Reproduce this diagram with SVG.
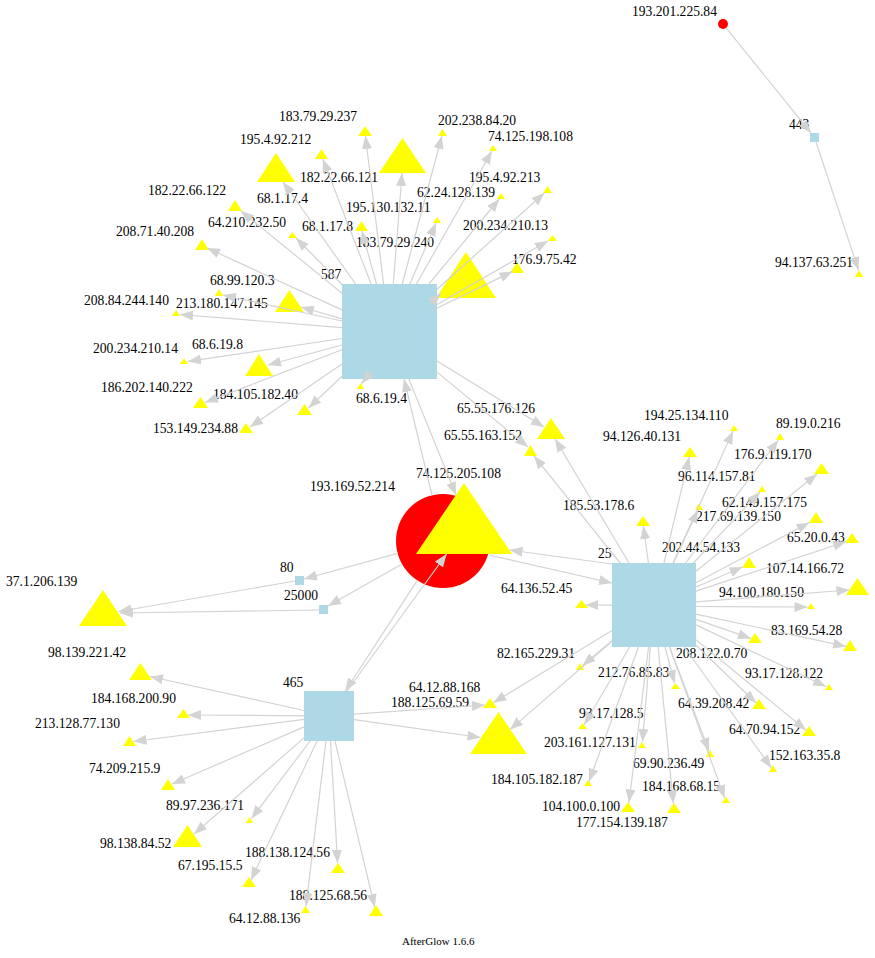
<svg xmlns="http://www.w3.org/2000/svg" width="875" height="958" viewBox="0 0 875 958">
<style>
text{font-family:"Liberation Serif","Times New Roman",serif;font-size:13.6px;fill:#000}
.y{fill:#ffff00}
.p{fill:#add8e6}
.r{fill:#ff0000}
.e line{stroke:#d3d3d3;stroke-width:1.2;fill:none;marker-end:url(#ah)}
.ft{font-size:11px}
</style>
<defs>
<marker id="ah" markerUnits="userSpaceOnUse" markerWidth="13" markerHeight="10" refX="13" refY="5" orient="auto"><path d="M0,0 L13,5 L0,10 z" fill="#d3d3d3"/></marker>
</defs>
<rect width="875" height="958" fill="#fff"/>
<g id="nodes">
<g id="src-193-201-225-84"><circle class="r" cx="723" cy="24" r="5"/><text x="632" y="16">193.201.225.84</text></g>
<g id="port-443"><rect class="p" x="810" y="133" width="9" height="9"/><text x="789" y="129">443</text></g>
<g id="ip-94-137-63-251"><polygon class="y" points="859,270 855,277 863,277"/><text x="775" y="267">94.137.63.251</text></g>
<g id="src-193-169-52-214"><circle class="r" cx="443" cy="541" r="47"/><text x="310" y="491">193.169.52.214</text></g>
<g id="port-587"><rect class="p" x="342" y="284" width="95" height="95"/><text x="321" y="279">587</text></g>
<g id="port-25"><rect class="p" x="612" y="563" width="84" height="84"/><text x="598" y="558">25</text></g>
<g id="port-465"><rect class="p" x="304" y="691" width="50" height="50"/><text x="283" y="687">465</text></g>
<g id="port-80"><rect class="p" x="295" y="576" width="9" height="9"/><text x="280" y="572">80</text></g>
<g id="port-25000"><rect class="p" x="319" y="605" width="9" height="9"/><text x="284" y="600">25000</text></g>
<g id="ip-37-1-206-139"><polygon class="y" points="103,590 79,626 127,626"/><text x="6" y="586">37.1.206.139</text></g>
<g id="ip-183-79-29-237"><polygon class="y" points="365,126 358,136 372,136"/><text x="279" y="121">183.79.29.237</text></g>
<g id="ip-195-4-92-212"><polygon class="y" points="321.5,149 315,159 328,159"/><text x="240" y="144">195.4.92.212</text></g>
<g id="ip-68-1-17-4"><polygon class="y" points="276,153 257,182 295,182"/><text x="257" y="203">68.1.17.4</text></g>
<g id="ip-182-22-66-121"><polygon class="y" points="402.5,138 379,173 426,173"/><text x="300" y="182">182.22.66.121</text></g>
<g id="ip-202-238-84-20"><polygon class="y" points="442.5,129 438,136 447,136"/><text x="438" y="125">202.238.84.20</text></g>
<g id="ip-74-125-198-108"><polygon class="y" points="493,145 489,151 497,151"/><text x="488" y="141">74.125.198.108</text></g>
<g id="ip-182-22-66-122"><polygon class="y" points="235,200 228,211 242,211"/><text x="148" y="195">182.22.66.122</text></g>
<g id="ip-64-210-232-50"><polygon class="y" points="292.5,232 288,238 297,238"/><text x="208" y="227">64.210.232.50</text></g>
<g id="ip-208-71-40-208"><polygon class="y" points="202,239 195,250 209,250"/><text x="116" y="236">208.71.40.208</text></g>
<g id="ip-68-1-17-8"><polygon class="y" points="361.5,221 355,231 368,231"/><text x="302" y="231">68.1.17.8</text></g>
<g id="ip-195-130-132-11"><polygon class="y" points="437,217 433,223 441,223"/><text x="346" y="212">195.130.132.11</text></g>
<g id="ip-62-24-128-139"><polygon class="y" points="501,193 497,199 505,199"/><text x="417" y="197">62.24.128.139</text></g>
<g id="ip-195-4-92-213"><polygon class="y" points="547.5,186 543,193 552,193"/><text x="469" y="182">195.4.92.213</text></g>
<g id="ip-200-234-210-13"><polygon class="y" points="552.5,235 548,241 557,241"/><text x="463" y="230">200.234.210.13</text></g>
<g id="ip-183-79-29-240"><polygon class="y" points="466,252 436,298 496,298"/><text x="356" y="247">183.79.29.240</text></g>
<g id="ip-176-9-75-42"><polygon class="y" points="517,262 510,273 524,273"/><text x="512" y="264">176.9.75.42</text></g>
<g id="ip-68-99-120-3"><polygon class="y" points="219,289 215,296 223,296"/><text x="210" y="285">68.99.120.3</text></g>
<g id="ip-213-180-147-145"><polygon class="y" points="289.5,290 275,312 304,312"/><text x="176" y="308">213.180.147.145</text></g>
<g id="ip-208-84-244-140"><polygon class="y" points="176,310 172,316 180,316"/><text x="84" y="305">208.84.244.140</text></g>
<g id="ip-200-234-210-14"><polygon class="y" points="184,358 180,364 188,364"/><text x="93" y="353">200.234.210.14</text></g>
<g id="ip-68-6-19-8"><polygon class="y" points="259,354 245,376 273,376"/><text x="192" y="349">68.6.19.8</text></g>
<g id="ip-186-202-140-222"><polygon class="y" points="200.5,397 193,408 208,408"/><text x="101" y="392">186.202.140.222</text></g>
<g id="ip-153-149-234-88"><polygon class="y" points="246,423 239,433 253,433"/><text x="153" y="433">153.149.234.88</text></g>
<g id="ip-184-105-182-40"><polygon class="y" points="304.5,404 297,415 312,415"/><text x="213" y="399">184.105.182.40</text></g>
<g id="ip-68-6-19-4"><polygon class="y" points="360.5,383 357,389 364,389"/><text x="356" y="403">68.6.19.4</text></g>
<g id="ip-65-55-176-126"><polygon class="y" points="551,418 537,439 565,439"/><text x="457" y="413">65.55.176.126</text></g>
<g id="ip-65-55-163-152"><polygon class="y" points="530.5,445 524,456 537,456"/><text x="444" y="440">65.55.163.152</text></g>
<g id="ip-74-125-205-108"><polygon class="y" points="464,483 416,554 512,554"/><text x="416" y="478">74.125.205.108</text></g>
<g id="ip-194-25-134-110"><polygon class="y" points="734,425 730,431 738,431"/><text x="644" y="420">194.25.134.110</text></g>
<g id="ip-89-19-0-216"><polygon class="y" points="780,433 776,440 784,440"/><text x="776" y="428">89.19.0.216</text></g>
<g id="ip-94-126-40-131"><polygon class="y" points="690,447 683,457 697,457"/><text x="603" y="441">94.126.40.131</text></g>
<g id="ip-176-9-119-170"><polygon class="y" points="821.5,463 814,474 829,474"/><text x="734" y="459">176.9.119.170</text></g>
<g id="ip-96-114-157-81"><polygon class="y" points="762,486 758,492 766,492"/><text x="678" y="481">96.114.157.81</text></g>
<g id="ip-217-69-139-150"><polygon class="y" points="699,503 695,510 703,510"/><text x="696" y="521">217.69.139.150</text></g>
<g id="ip-185-53-178-6"><polygon class="y" points="643,516 636,526 650,526"/><text x="563" y="510">185.53.178.6</text></g>
<g id="ip-62-149-157-175"><polygon class="y" points="816,512 809,523 823,523"/><text x="722" y="507">62.149.157.175</text></g>
<g id="ip-65-20-0-43"><polygon class="y" points="852,533 845,543 859,543"/><text x="787" y="542">65.20.0.43</text></g>
<g id="ip-202-44-54-133"><polygon class="y" points="749,557 742,568 756,568"/><text x="662" y="552">202.44.54.133</text></g>
<g id="ip-107-14-166-72"><polygon class="y" points="857.5,578 846,595 869,595"/><text x="766" y="573">107.14.166.72</text></g>
<g id="ip-94-100-180-150"><polygon class="y" points="811,603 807,609 815,609"/><text x="719" y="597">94.100.180.150</text></g>
<g id="ip-64-136-52-45"><polygon class="y" points="581.5,600 575,608 588,608"/><text x="501" y="593">64.136.52.45</text></g>
<g id="ip-208-122-0-70"><polygon class="y" points="755,633 748,643 762,643"/><text x="676" y="658">208.122.0.70</text></g>
<g id="ip-83-169-54-28"><polygon class="y" points="850,640 843,651 857,651"/><text x="771" y="635">83.169.54.28</text></g>
<g id="ip-82-165-229-31"><polygon class="y" points="580,663 576,670 584,670"/><text x="497" y="658">82.165.229.31</text></g>
<g id="ip-212-76-85-83"><polygon class="y" points="675.5,683 671,689 680,689"/><text x="598" y="677">212.76.85.83</text></g>
<g id="ip-93-17-128-122"><polygon class="y" points="829,684 825,690 833,690"/><text x="745" y="678">93.17.128.122</text></g>
<g id="ip-64-12-88-168"><polygon class="y" points="490,698 483,708 497,708"/><text x="409" y="692">64.12.88.168</text></g>
<g id="ip-188-125-69-59"><polygon class="y" points="498.5,712 470,754 527,754"/><text x="391" y="707">188.125.69.59</text></g>
<g id="ip-64-39-208-42"><polygon class="y" points="759,699 752,709 766,709"/><text x="678" y="708">64.39.208.42</text></g>
<g id="ip-93-17-128-5"><polygon class="y" points="582.5,723 578,729 587,729"/><text x="579" y="718">93.17.128.5</text></g>
<g id="ip-64-70-94-152"><polygon class="y" points="809,726 802,736 816,736"/><text x="729" y="734">64.70.94.152</text></g>
<g id="ip-203-161-127-131"><polygon class="y" points="642,742 638,748 646,748"/><text x="544" y="747">203.161.127.131</text></g>
<g id="ip-69-90-236-49"><polygon class="y" points="710,750 706,757 714,757"/><text x="633" y="768">69.90.236.49</text></g>
<g id="ip-152-163-35-8"><polygon class="y" points="773,765 769,772 777,772"/><text x="769" y="760">152.163.35.8</text></g>
<g id="ip-184-105-182-187"><polygon class="y" points="588,780 584,786 592,786"/><text x="491" y="784">184.105.182.187</text></g>
<g id="ip-104-100-0-100"><polygon class="y" points="628,802 621,812 635,812"/><text x="542" y="811">104.100.0.100</text></g>
<g id="ip-184-168-68-15"><polygon class="y" points="726,797 722,803 730,803"/><text x="642" y="791">184.168.68.15</text></g>
<g id="ip-177-154-139-187"><polygon class="y" points="674,803 667,813 681,813"/><text x="576" y="827">177.154.139.187</text></g>
<g id="ip-98-139-221-42"><polygon class="y" points="140.5,663 129,680 152,680"/><text x="48" y="657">98.139.221.42</text></g>
<g id="ip-184-168-200-90"><polygon class="y" points="183.5,709 177,718 190,718"/><text x="91" y="703">184.168.200.90</text></g>
<g id="ip-213-128-77-130"><polygon class="y" points="129.5,736 123,746 136,746"/><text x="35" y="728">213.128.77.130</text></g>
<g id="ip-74-209-215-9"><polygon class="y" points="168,779 161,790 175,790"/><text x="89" y="773">74.209.215.9</text></g>
<g id="ip-89-97-236-171"><polygon class="y" points="249.5,817 246,823 253,823"/><text x="166" y="810">89.97.236.171</text></g>
<g id="ip-98-138-84-52"><polygon class="y" points="187.5,825 173,847 202,847"/><text x="100" y="848">98.138.84.52</text></g>
<g id="ip-188-138-124-56"><polygon class="y" points="338,863 331,873 345,873"/><text x="245" y="857">188.138.124.56</text></g>
<g id="ip-67-195-15-5"><polygon class="y" points="249,877 242,887 256,887"/><text x="178" y="870">67.195.15.5</text></g>
<g id="ip-64-12-88-136"><polygon class="y" points="305.5,906 301,913 310,913"/><text x="229" y="923">64.12.88.136</text></g>
<g id="ip-188-125-68-56"><polygon class="y" points="376,905 369,916 383,916"/><text x="289" y="900">188.125.68.56</text></g>
</g>
<g id="connectors" class="e">
<line x1="726.1" y1="27.9" x2="811" y2="133"/>
<line x1="816" y1="142" x2="858.5" y2="270"/>
<line x1="383.6" y1="284" x2="365.4" y2="136"/>
<line x1="371.1" y1="284" x2="322.8" y2="159"/>
<line x1="355.6" y1="284" x2="283" y2="182"/>
<line x1="393.3" y1="284" x2="402.1" y2="173"/>
<line x1="402.2" y1="284" x2="441.9" y2="136"/>
<line x1="416.4" y1="284" x2="491.9" y2="151"/>
<line x1="342" y1="293.3" x2="241" y2="211"/>
<line x1="342" y1="284.5" x2="296" y2="238"/>
<line x1="342" y1="309.9" x2="207" y2="248"/>
<line x1="376.5" y1="284" x2="361.9" y2="231"/>
<line x1="409.9" y1="284" x2="436.1" y2="223"/>
<line x1="428.9" y1="284" x2="499.3" y2="199"/>
<line x1="437" y1="289.2" x2="544.5" y2="193"/>
<line x1="437" y1="304.5" x2="548" y2="241"/>
<line x1="430" y1="304" x2="441" y2="293"/>
<line x1="437" y1="308.3" x2="512.5" y2="271.5"/>
<line x1="342" y1="321" x2="223" y2="295"/>
<line x1="342" y1="318.8" x2="301" y2="307"/>
<line x1="342" y1="327.6" x2="180" y2="314.5"/>
<line x1="342" y1="338.5" x2="188" y2="361.4"/>
<line x1="342" y1="345" x2="268" y2="365"/>
<line x1="342" y1="349.8" x2="205" y2="402.5"/>
<line x1="342" y1="364" x2="250" y2="427"/>
<line x1="342" y1="376.3" x2="308.6" y2="408"/>
<line x1="372" y1="371" x2="361.5" y2="383.5"/>
<line x1="437" y1="361.1" x2="544" y2="427"/>
<line x1="437" y1="372.1" x2="528" y2="447"/>
<line x1="408.8" y1="379" x2="456" y2="495"/>
<line x1="432" y1="495.3" x2="404" y2="379"/>
<line x1="489" y1="555" x2="612" y2="583"/>
<line x1="397.6" y1="553.4" x2="304" y2="579"/>
<line x1="402" y1="564" x2="328" y2="606"/>
<line x1="417.3" y1="580.4" x2="345.3" y2="691"/>
<line x1="295" y1="581" x2="118.5" y2="611.5"/>
<line x1="319" y1="610" x2="120" y2="613"/>
<line x1="304" y1="710.5" x2="150" y2="676.5"/>
<line x1="304" y1="715.8" x2="188" y2="715"/>
<line x1="304" y1="719.3" x2="133.5" y2="741.5"/>
<line x1="304" y1="726.9" x2="172" y2="784"/>
<line x1="310.1" y1="741" x2="251.5" y2="818.5"/>
<line x1="304" y1="737.9" x2="194" y2="834"/>
<line x1="330.5" y1="741" x2="337.6" y2="863"/>
<line x1="317.1" y1="741" x2="251" y2="880"/>
<line x1="326" y1="741" x2="306" y2="906"/>
<line x1="335" y1="741" x2="374.7" y2="907"/>
<line x1="354" y1="714.2" x2="485" y2="705"/>
<line x1="354" y1="719.6" x2="480.5" y2="737.5"/>
<line x1="347" y1="691" x2="446.6" y2="554"/>
<line x1="673.1" y1="563" x2="733.1" y2="431"/>
<line x1="685.6" y1="563" x2="778.3" y2="440"/>
<line x1="664" y1="563" x2="689.2" y2="457"/>
<line x1="696" y1="571.2" x2="817" y2="474"/>
<line x1="693.4" y1="563" x2="760" y2="492"/>
<line x1="673.4" y1="563" x2="698" y2="510"/>
<line x1="648.4" y1="563" x2="643.4" y2="526"/>
<line x1="696" y1="582.8" x2="809.5" y2="522.5"/>
<line x1="696" y1="591.1" x2="846" y2="541.7"/>
<line x1="696" y1="587" x2="742.6" y2="567"/>
<line x1="696" y1="601.8" x2="849.4" y2="590"/>
<line x1="696" y1="606.5" x2="807.5" y2="607"/>
<line x1="612" y1="605.1" x2="585.5" y2="605"/>
<line x1="696" y1="619.4" x2="751" y2="638.4"/>
<line x1="696" y1="614.1" x2="846" y2="646.4"/>
<line x1="612" y1="640.6" x2="582.5" y2="665.5"/>
<line x1="665" y1="647" x2="674.5" y2="683"/>
<line x1="696" y1="624.9" x2="826" y2="686.5"/>
<line x1="612" y1="630.5" x2="493.3" y2="702.7"/>
<line x1="612" y1="641.3" x2="510" y2="729.6"/>
<line x1="696" y1="645.3" x2="756.2" y2="703"/>
<line x1="629.6" y1="647" x2="584.3" y2="724.7"/>
<line x1="696" y1="639.6" x2="806" y2="730.2"/>
<line x1="650.4" y1="647" x2="642.4" y2="742"/>
<line x1="669.7" y1="647" x2="709" y2="751"/>
<line x1="684.3" y1="647" x2="771.4" y2="767.8"/>
<line x1="638.5" y1="647" x2="589" y2="781.5"/>
<line x1="648.6" y1="647" x2="628.9" y2="802.5"/>
<line x1="669.4" y1="647" x2="724.7" y2="798"/>
<line x1="658.1" y1="647" x2="673.3" y2="803.5"/>
<line x1="629" y1="563" x2="555.1" y2="439"/>
<line x1="620.2" y1="563" x2="534" y2="456"/>
<line x1="612" y1="564" x2="509.5" y2="550"/>
</g>
<text class="ft" x="402" y="945">AfterGlow 1.6.6</text>
</svg>
